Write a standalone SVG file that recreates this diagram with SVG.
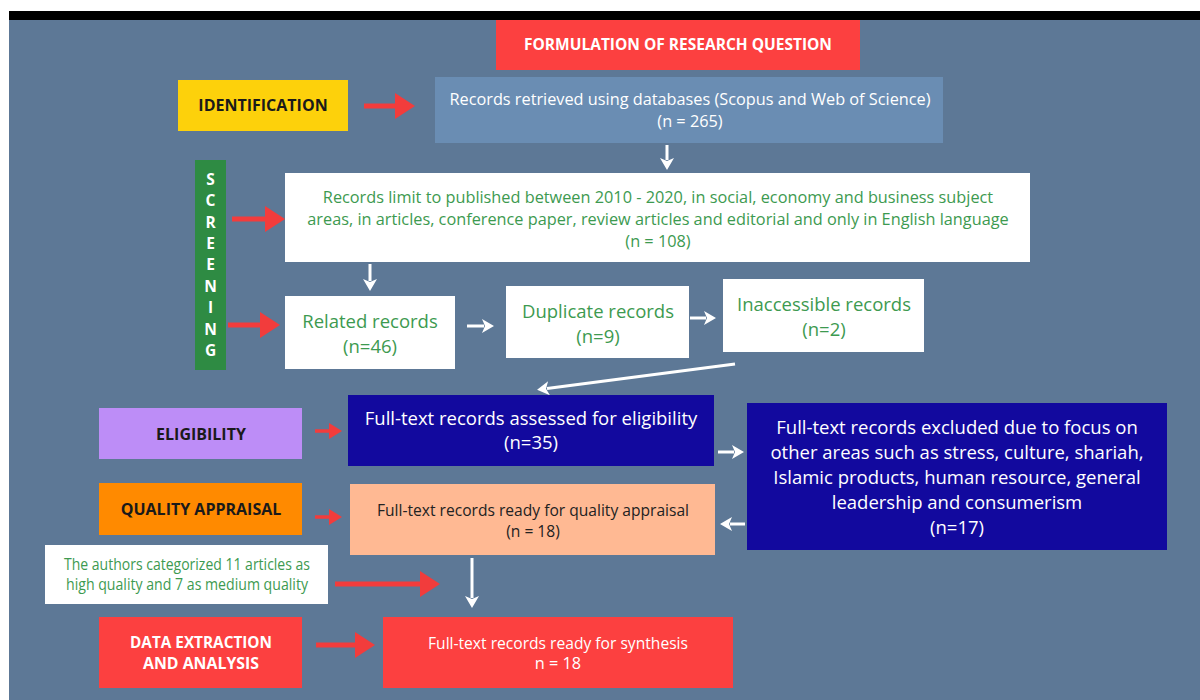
<svg xmlns="http://www.w3.org/2000/svg" width="1200" height="700" viewBox="0 0 1200 700">
<defs>
<style>
text{font-family:"Open Sans","Noto Sans","DejaVu Sans",sans-serif;text-anchor:middle;}
.lbl{font-weight:bold;font-size:16px;fill:#1a1a1a;}
.lblw{font-weight:bold;font-size:15.5px;fill:#ffffff;}
.wt{fill:#ffffff;font-size:16.3px;}
.gt{fill:#3d9a50;font-size:16.3px;}
.gt2{fill:#3d9a50;font-size:18.5px;}
.wt2{fill:#ffffff;font-size:18.5px;}
.dt{fill:#222222;font-size:15.6px;}
.red{stroke:#f23c3c;stroke-width:5;fill:none;}
.redS{stroke:#f23c3c;stroke-width:3.5;fill:none;}
.wht{stroke:#ffffff;stroke-width:3;fill:none;}
</style>
<marker id="rh" viewBox="0 0 20 26" markerWidth="20" markerHeight="26" refX="2" refY="13" markerUnits="userSpaceOnUse" orient="auto"><path d="M0,0 L20,13 L0,26 z" fill="#f23c3c"/></marker>
<marker id="rhs" viewBox="0 0 13 16" markerWidth="13" markerHeight="16" refX="2" refY="8" markerUnits="userSpaceOnUse" orient="auto"><path d="M0,0 L13,8 L0,16 z" fill="#f23c3c"/></marker>
<marker id="wh" viewBox="0 0 12 14" markerWidth="12" markerHeight="14" refX="2" refY="7" markerUnits="userSpaceOnUse" orient="auto"><path d="M0,0 L12,7 L0,14 L3,7 z" fill="#ffffff"/></marker>
</defs>
<rect x="0" y="0" width="1200" height="700" fill="#ffffff"/>
<rect x="9" y="11" width="1191" height="9" fill="#000000"/>
<rect x="9" y="20" width="1191" height="680" fill="#5d7896"/>

<g id="title"><rect x="496" y="20" width="364" height="50" fill="#fc4040"/><text class="lblw" x="678" y="50">FORMULATION OF RESEARCH QUESTION</text></g>

<g id="identification"><rect x="178" y="80" width="170" height="51" fill="#fdd10b"/><text class="lbl" x="263" y="111">IDENTIFICATION</text></g>
<g id="retrieved"><rect x="435" y="77" width="508" height="66" fill="#6a8db3"/><text class="wt" x="690" y="105">Records retrieved using databases (Scopus and Web of Science)</text><text class="wt" x="690" y="127">(n = 265)</text></g>

<g id="screening"><rect x="195" y="160" width="31" height="210" fill="#2e8b43"/>
<text class="lblw" font-size="13" x="210.5" y="185">S</text><text class="lblw" font-size="13" x="210.5" y="206">C</text><text class="lblw" font-size="13" x="210.5" y="228">R</text><text class="lblw" font-size="13" x="210.5" y="249">E</text><text class="lblw" font-size="13" x="210.5" y="270">E</text><text class="lblw" font-size="13" x="210.5" y="292">N</text><text class="lblw" font-size="13" x="210.5" y="313">I</text><text class="lblw" font-size="13" x="210.5" y="335">N</text><text class="lblw" font-size="13" x="210.5" y="356">G</text>
</g>

<g id="limit"><rect x="285" y="173" width="745" height="89" fill="#ffffff"/><text class="gt" x="658" y="203">Records limit to published between 2010 - 2020, in social, economy and business subject</text><text class="gt" x="658" y="225">areas, in articles, conference paper, review articles and editorial and only in English language</text><text class="gt" x="658" y="247">(n = 108)</text></g>

<g id="related"><rect x="285" y="296" width="170" height="73" fill="#ffffff"/><text class="gt2" x="370" y="328">Related records</text><text class="gt2" x="370" y="353">(n=46)</text></g>
<g id="duplicate"><rect x="506" y="286" width="183" height="72" fill="#ffffff"/><text class="gt2" x="598" y="318">Duplicate records</text><text class="gt2" x="598" y="343">(n=9)</text></g>
<g id="inaccessible"><rect x="723" y="279" width="201" height="73" fill="#ffffff"/><text class="gt2" x="824" y="311">Inaccessible records</text><text class="gt2" x="824" y="336">(n=2)</text></g>

<g id="eligibility"><rect x="99" y="408" width="203" height="51" fill="#bd8df7"/><text class="lbl" x="201" y="440">ELIGIBILITY</text></g>
<g id="assessed"><rect x="348" y="395" width="366" height="71" fill="#12099e"/><text class="wt2" x="531" y="425">Full-text records assessed for eligibility</text><text class="wt2" x="531" y="449">(n=35)</text></g>
<g id="excluded"><rect x="747" y="403" width="420" height="147" fill="#12099e"/><text class="wt2" x="957" y="434">Full-text records excluded due to focus on</text><text class="wt2" x="957" y="459">other areas such as stress, culture, shariah,</text><text class="wt2" x="957" y="484">Islamic products, human resource, general</text><text class="wt2" x="957" y="509">leadership and consumerism</text><text class="wt2" x="957" y="534">(n=17)</text></g>

<g id="quality"><rect x="99" y="483" width="203" height="52" fill="#ff8a00"/><text class="lbl" x="201" y="515">QUALITY APPRAISAL</text></g>
<g id="ready-quality"><rect x="350" y="484" width="365" height="71" fill="#ffb993"/><text class="dt" x="533" y="516">Full-text records ready for quality appraisal</text><text class="dt" x="533" y="537">(n = 18)</text></g>

<g id="authors"><rect x="45" y="545" width="283" height="59" fill="#ffffff"/><text class="gt" font-size="13" x="187" y="570" textLength="246" lengthAdjust="spacingAndGlyphs">The authors categorized 11 articles as</text><text class="gt" font-size="13" x="187" y="590" textLength="242" lengthAdjust="spacingAndGlyphs">high quality and 7 as medium quality</text></g>

<g id="extraction"><rect x="99" y="617" width="203" height="71" fill="#fc4040"/><text class="lblw" font-size="15.5" x="201" y="648" textLength="142" lengthAdjust="spacingAndGlyphs">DATA EXTRACTION</text><text class="lblw" font-size="15.5" x="201" y="669" textLength="116" lengthAdjust="spacingAndGlyphs">AND ANALYSIS</text></g>
<g id="synthesis"><rect x="383" y="617" width="350" height="71" fill="#fc4040"/><text class="wt" font-size="15.5" x="558" y="649" textLength="260" lengthAdjust="spacingAndGlyphs">Full-text records ready for synthesis</text><text class="wt" font-size="15.5" x="558" y="669">n = 18</text></g>

<g id="connectors">
<line class="red" x1="364" y1="106" x2="397" y2="106" marker-end="url(#rh)"/>
<line class="red" x1="232" y1="219" x2="267" y2="219" marker-end="url(#rh)"/>
<line class="red" x1="228" y1="325" x2="262" y2="325" marker-end="url(#rh)"/>
<line class="redS" x1="315" y1="431" x2="331" y2="431" marker-end="url(#rhs)"/>
<line class="redS" x1="315" y1="517" x2="331" y2="517" marker-end="url(#rhs)"/>
<line class="red" x1="335" y1="584" x2="422" y2="584" marker-end="url(#rh)"/>
<line class="red" x1="316" y1="645" x2="357" y2="645" marker-end="url(#rh)"/>
<line class="wht" x1="667" y1="145" x2="667" y2="160" marker-end="url(#wh)"/>
<line class="wht" x1="370" y1="264" x2="370" y2="281" marker-end="url(#wh)"/>
<line class="wht" x1="467" y1="326" x2="484" y2="326" marker-end="url(#wh)"/>
<line class="wht" x1="690" y1="318" x2="706" y2="318" marker-end="url(#wh)"/>
<line class="wht" x1="735" y1="364" x2="547" y2="388.5" marker-end="url(#wh)"/>
<line class="wht" x1="718" y1="452" x2="734" y2="452" marker-end="url(#wh)"/>
<line class="wht" x1="745" y1="524" x2="730" y2="524" marker-end="url(#wh)"/>
<line class="wht" x1="472" y1="558" x2="472" y2="598" marker-end="url(#wh)"/>
</g>
</svg>
